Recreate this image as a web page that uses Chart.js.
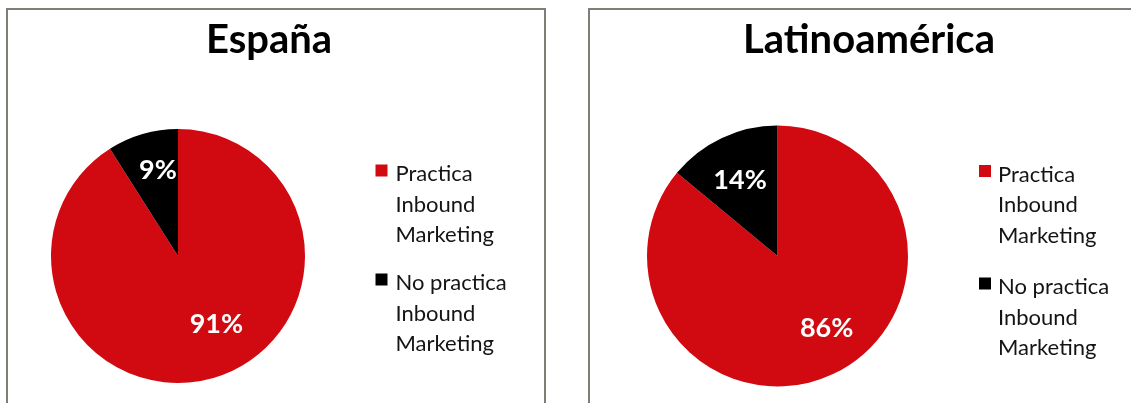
<!DOCTYPE html>
<html>
<head>
<meta charset="utf-8">
<script src="https://cdn.jsdelivr.net/npm/chart.js@4/dist/chart.umd.min.js"></script>
<style>
  html, body { margin: 0; padding: 0; width: 1131px; height: 403px; overflow: hidden; background: #fff; }
  .panel { position: absolute; top: 8px; height: 430px; border: 2px solid #7f7f77; border-bottom: none; background: #fff; }
  #panelES { left: 6px; width: 536px; }
  #panelLA { left: 588px; width: 560px; }
  canvas { position: absolute; left: 0; top: 0; }
</style>
</head>
<body>
<div class="panel" id="panelES"><canvas id="chartES" width="536" height="393" style="width:536px;height:393px"></canvas></div>
<div class="panel" id="panelLA"><canvas id="chartLA" width="541" height="393" style="width:541px;height:393px"></canvas></div>
<script>
// Survey answers shared by both pies
const categories = ['Practica Inbound Marketing', 'No practica Inbound Marketing'];
const sliceColors = ['#d10a11', '#000000'];

// Share of respondents (%)
const espanaValues = [91, 9];
const latamValues = [86, 14];

const titles = ['España', 'Latinoamérica'];

const FONT = 'Lato, "Open Sans", sans-serif';

function wrapWords(ctx, text, maxWidth) {
  const words = text.split(' ');
  const lines = [];
  let line = '';
  for (const w of words) {
    const test = line ? line + ' ' + w : w;
    if (line && ctx.measureText(test).width > maxWidth) {
      lines.push(line);
      line = w;
    } else {
      line = test;
    }
  }
  if (line) lines.push(line);
  return lines;
}

// Title, percentage labels and a wrapped legend drawn on top of the pie
const panelDecor = {
  id: 'panelDecor',
  afterDraw(chart, args, opts) {
    const ctx = chart.ctx;
    const meta = chart.getDatasetMeta(0);
    const ds = chart.data.datasets[0];
    ctx.save();

    // title
    ctx.fillStyle = '#000';
    ctx.font = 'bold 40px ' + FONT;
    ctx.textAlign = 'center';
    ctx.textBaseline = 'alphabetic';
    ctx.fillText(opts.title, opts.titleX, opts.titleY);

    // percentage labels inside slices
    ctx.font = 'bold 27px ' + FONT;
    ctx.fillStyle = '#fff';
    ctx.textAlign = 'center';
    ctx.textBaseline = 'middle';
    meta.data.forEach((arc, i) => {
      const p = opts.labelPlacement[i];
      const mid = (arc.startAngle + arc.endAngle) / 2 + p.turn * Math.PI / 180;
      const r = arc.outerRadius * p.depth;
      ctx.fillText(ds.data[i] + '%', arc.x + Math.cos(mid) * r, arc.y + Math.sin(mid) * r);
    });

    // legend
    ctx.font = '22px ' + FONT;
    ctx.textAlign = 'left';
    ctx.textBaseline = 'alphabetic';
    let y = opts.legend.y;
    chart.data.labels.forEach((label, i) => {
      ctx.fillStyle = ds.backgroundColor[i];
      ctx.fillRect(opts.legend.boxX, y - 16.5, 12, 12);
      ctx.fillStyle = '#141414';
      const lines = wrapWords(ctx, label, opts.legend.maxWidth);
      lines.forEach((ln, k) => ctx.fillText(ln, opts.legend.textX, y + k * opts.legend.lineHeight));
      y += lines.length * opts.legend.lineHeight + opts.legend.gap;
    });
    ctx.restore();
  }
};

function makePie(canvasId, values, title, padding, decor) {
  return new Chart(document.getElementById(canvasId), {
    type: 'pie',
    data: {
      labels: categories,
      datasets: [{
        data: values,
        backgroundColor: sliceColors,
        borderWidth: 0,
        hoverOffset: 0
      }]
    },
    options: {
      responsive: false,
      animation: false,
      events: [],
      layout: { padding: padding },
      plugins: {
        legend: { display: false },
        title: { display: false },
        tooltip: { enabled: false },
        panelDecor: Object.assign({ title: title }, decor)
      }
    },
    plugins: [panelDecor]
  });
}

makePie('chartES', espanaValues, titles[0],
  { left: 43, top: 119, right: 239, bottom: 20 },
  {
    titleX: 261, titleY: 43,
    labelPlacement: [{ turn: -13, depth: 0.62 }, { turn: 3, depth: 0.69 }],
    legend: { boxX: 367.5, textX: 387.5, y: 171, lineHeight: 30.5, gap: 17.5, maxWidth: 130 }
  });

makePie('chartLA', latamValues, titles[1],
  { left: 57, top: 115.5, right: 223, bottom: 16.5 },
  {
    titleX: 279, titleY: 43,
    labelPlacement: [{ turn: -9, depth: 0.67 }, { turn: -1, depth: 0.65 }],
    legend: { boxX: 389, textX: 408, y: 171.5, lineHeight: 30.5, gap: 21, maxWidth: 130 }
  });
</script>
</body>
</html>
